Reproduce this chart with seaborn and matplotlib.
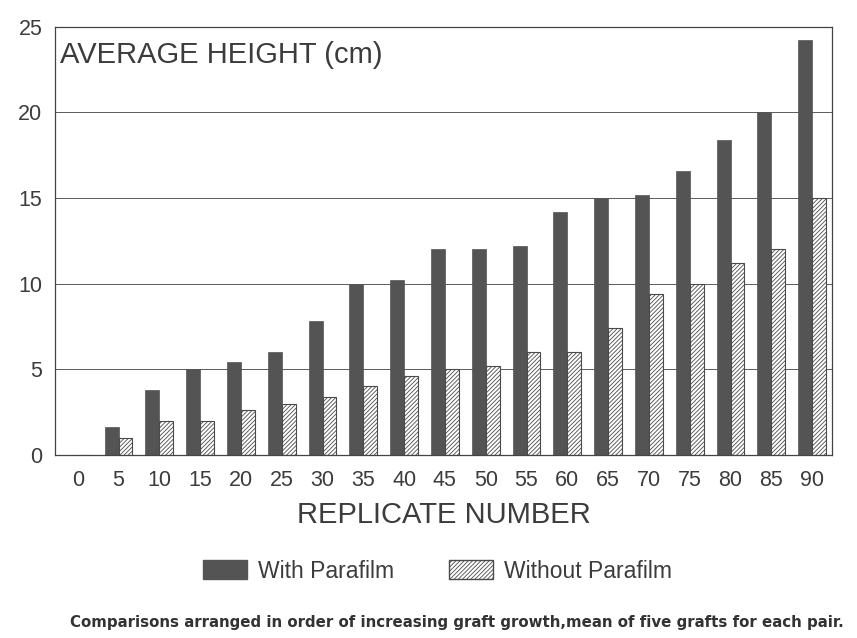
import numpy as np
import pandas as pd
import matplotlib
matplotlib.use("Agg")
import matplotlib.pyplot as plt
import matplotlib.patches as mpatches
import seaborn as sns

# values
replicates = [0, 5, 10, 15, 20, 25, 30, 35, 40, 45, 50, 55, 60, 65, 70, 75, 80, 85, 90]
with_parafilm = [0.0, 1.6, 3.8, 5.0, 5.4, 6.0, 7.8, 10.0, 10.2, 12.0, 12.0, 12.2, 14.2, 15.0, 15.2, 16.6, 18.4, 20.0, 24.2]
without_parafilm = [0.0, 1.0, 2.0, 2.0, 2.6, 3.0, 3.4, 4.0, 4.6, 5.0, 5.2, 6.0, 6.0, 7.4, 9.4, 10.0, 11.2, 12.0, 15.0]
series = ["With Parafilm", "Without Parafilm"]

sns.set_theme(style="white")
plt.rcParams["font.family"] = ["Liberation Sans", "DejaVu Sans"]
plt.rcParams["hatch.linewidth"] = 0.6

df = pd.DataFrame({
    "replicate": [str(r) for r in replicates] * 2,
    "height": with_parafilm + without_parafilm,
    "series": [series[0]] * len(replicates) + [series[1]] * len(replicates),
})

dark = "#545454"
ink = "#3c3c3c"
hatch = "////////"

fig = plt.figure(figsize=(8.57, 6.38), dpi=100)
ax = fig.add_axes([0.064, 0.287, 0.907, 0.671])

sns.barplot(data=df, x="replicate", y="height", hue="series", order=[str(r) for r in replicates],
            hue_order=series, palette=[dark, "white"], width=0.68, gap=0.0,
            saturation=1, legend=False, ax=ax)

# dark bars solid, second series hatched
for bar in ax.containers[0]:
    bar.set_edgecolor(dark)
    bar.set_linewidth(0.5)
for bar in ax.containers[1]:
    bar.set_facecolor("white")
    bar.set_edgecolor("#4a4a4a")
    bar.set_hatch(hatch)
    bar.set_linewidth(0.8)

ax.set_ylim(0, 25)
ax.set_xlim(-0.56, 18.49)
ax.set_yticks([0, 5, 10, 15, 20, 25])
for y in [5, 10, 15, 20]:
    ax.axhline(y, color="#5a5a5a", lw=0.7, zorder=0)

for s in ax.spines.values():
    s.set_color("#444444")
    s.set_linewidth(0.9)

ax.tick_params(axis="both", length=0, labelsize=15.5, labelcolor=ink)
ax.tick_params(axis="y", pad=9)
ax.tick_params(axis="x", pad=11)
ax.set_xlabel("REPLICATE NUMBER", fontsize=21, color=ink, labelpad=7)
ax.set_ylabel("")

ax.text(0.007, 0.935, "AVERAGE HEIGHT (cm)", transform=ax.transAxes, fontsize=21,
        color=ink, ha="left", va="center")

handles = [
    mpatches.Patch(facecolor=dark, edgecolor=dark, label=series[0]),
    mpatches.Patch(facecolor="white", edgecolor="#4a4a4a", hatch=hatch, label=series[1]),
]
fig.legend(handles=handles, loc="center", bbox_to_anchor=(0.51, 0.105), ncol=2, frameon=False,
           fontsize=16.5, handlelength=1.95, handleheight=0.9, handletextpad=0.45, columnspacing=2.4,
           labelcolor=ink)

fig.text(0.533, 0.025, "Comparisons arranged in order of increasing graft growth,mean of five grafts for each pair.",
         ha="center", va="center", fontsize=10.8, color="#333333", family="DejaVu Sans", weight="semibold")

fig.savefig("out.png", dpi=100)
